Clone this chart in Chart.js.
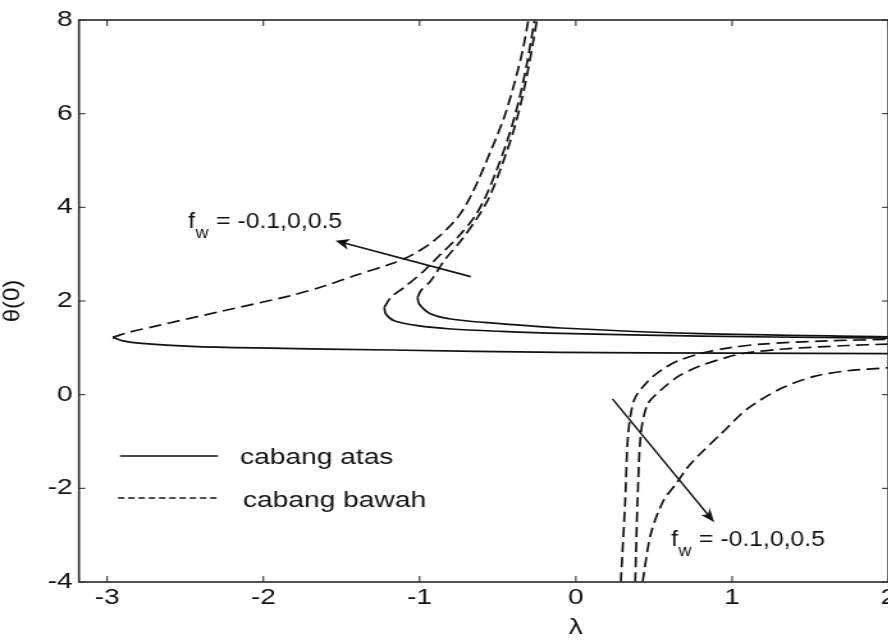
<!DOCTYPE html>
<html>
<head>
<meta charset="utf-8">
<script src="https://cdn.jsdelivr.net/npm/chart.js@4.4.1/dist/chart.umd.min.js"></script>
<style>
  html, body { margin: 0; padding: 0; background: #fff; overflow: hidden; }
  #wrap { width: 888px; height: 640px; overflow: hidden; position: relative; }
  /* the original figure is stretched sideways, so is this one */
  #stretch { position: absolute; left: 0; top: 0; transform: scaleX(1.28); transform-origin: 0 0; }
</style>
</head>
<body>
<div id="wrap"><div id="stretch"><canvas id="thetaChart" width="712" height="640"></canvas></div></div>
<script>
// axis ticks and labels
var xTicks = [-3, -2, -1, 0, 1, 2];
var yTicks = [-4, -2, 0, 2, 4, 6, 8];
var xLabel = '\u03bb';
var yLabel = '\u03b8(0)';
var legendLabels = ['cabang atas', 'cabang bawah'];
var fwValues = [-0.1, 0, 0.5];

// [lambda, theta(0)]
// left family, upper branch (solid)
var upperFwM01 = [[-1.013, 2.077], [-1.003, 1.936], [-0.928, 1.722], [-0.800, 1.616], [-0.587, 1.543], [-0.096, 1.424], [0.80, 1.302], [2.0, 1.235]];
var upperFw0 = [[-1.226, 1.863], [-1.216, 1.722], [-1.163, 1.580], [-1.013, 1.473], [-0.800, 1.402], [-0.480, 1.351], [-0.096, 1.308], [0.80, 1.249], [2.0, 1.206]];
var upperFw05 = [[-2.964, 1.223], [-2.90, 1.15], [-2.78, 1.095], [-2.46, 1.031], [-2.04, 0.997], [-1.18, 0.954], [-0.10, 0.903], [1.0, 0.885], [2.0, 0.875]];

// left family, lower branch (dashed)
var lowerFwM01 = [[-1.013, 2.077], [-0.992, 2.220], [-0.928, 2.433], [-0.843, 2.860], [-0.736, 3.287], [-0.629, 3.784], [-0.555, 4.211], [-0.478, 4.852], [-0.405, 5.565], [-0.348, 6.275], [-0.303, 6.986], [-0.272, 7.556], [-0.250, 7.983]];
var lowerFw0 = [[-1.226, 1.863], [-1.184, 2.077], [-1.099, 2.290], [-0.971, 2.647], [-0.864, 3.003], [-0.757, 3.357], [-0.651, 3.784], [-0.580, 4.211], [-0.500, 4.852], [-0.425, 5.565], [-0.365, 6.275], [-0.318, 6.986], [-0.287, 7.556], [-0.265, 7.983]];
var lowerFw05 = [[-2.964, 1.223], [-2.85, 1.34], [-2.676, 1.473], [-2.254, 1.793], [-1.827, 2.113], [-1.60, 2.33], [-1.399, 2.56], [-1.186, 2.79], [-1.05, 2.98], [-0.907, 3.29], [-0.757, 3.78], [-0.665, 4.29], [-0.544, 5.21], [-0.459, 5.92], [-0.395, 6.63], [-0.341, 7.34], [-0.305, 7.98]];

// right family, lower branch (dashed)
var rightFwM01 = [[0.288, -4.0], [0.316, -2.26], [0.335, -0.84], [0.375, -0.1], [0.459, 0.28], [0.545, 0.52], [0.652, 0.72], [0.80, 0.88], [0.98, 1.0], [1.19, 1.08], [1.61, 1.15], [2.0, 1.18]];
var rightFw0 = [[0.38, -4.0], [0.395, -2.26], [0.416, -0.84], [0.46, -0.2], [0.545, 0.10], [0.66, 0.40], [0.80, 0.62], [0.96, 0.79], [1.07, 0.88], [1.31, 0.97], [1.74, 1.05], [2.0, 1.08]];
var rightFw05 = [[0.427, -4.0], [0.48, -2.97], [0.561, -2.26], [0.64, -1.91], [0.716, -1.55], [0.80, -1.25], [0.928, -0.84], [1.099, -0.30], [1.312, 0.13], [1.525, 0.39], [1.738, 0.51], [2.0, 0.575]];

var solidBranches = [upperFwM01, upperFw0, upperFw05];
var dashedBranches = [lowerFwM01, lowerFw0, lowerFw05, rightFwM01, rightFw0, rightFw05];

var S = 1.28;
var fam = "'Liberation Sans', Arial, Helvetica, sans-serif";
var ink = '#111';
var curveDash = [10, 5];

function pts(arr) {
    return arr.map(function(p) { return { x: p[0], y: p[1] }; });
}

var datasets = [];
solidBranches.forEach(function(b) {
    datasets.push({ label: legendLabels[0], data: pts(b), borderDash: [] });
});
dashedBranches.forEach(function(b) {
    datasets.push({ label: legendLabels[1], data: pts(b), borderDash: curveDash });
});
datasets.forEach(function(d) {
    d.showLine = true;
    d.borderColor = ink;
    d.borderWidth = 1.7;
    d.pointRadius = 0;
    d.tension = 0.3;
    d.fill = false;
});

function line(ctx, x1, y1, x2, y2) {
    ctx.beginPath();
    ctx.moveTo(x1, y1);
    ctx.lineTo(x2, y2);
    ctx.stroke();
}

// arrow drawn in unstretched (screen) space so the head keeps its shape
function arrow(ctx, x1, y1, x2, y2) {
    ctx.save();
    ctx.scale(1 / S, 1);
    x1 *= S; x2 *= S;
    var ang = Math.atan2(y2 - y1, x2 - x1);
    var len = 14, half = 5.5, notch = 4;
    ctx.strokeStyle = ink;
    ctx.fillStyle = ink;
    ctx.lineWidth = 1.8;
    line(ctx, x1, y1, x2 - Math.cos(ang) * notch, y2 - Math.sin(ang) * notch);
    ctx.translate(x2, y2);
    ctx.rotate(ang);
    ctx.beginPath();
    ctx.moveTo(0, 0);
    ctx.lineTo(-len, -half);
    ctx.lineTo(-len + notch, 0);
    ctx.lineTo(-len, half);
    ctx.closePath();
    ctx.fill();
    ctx.restore();
}

function fwLabel(ctx, x, y) {
    ctx.save();
    ctx.translate(x, y);
    ctx.scale(0.88, 1);
    ctx.fillStyle = ink;
    ctx.textAlign = 'left';
    ctx.textBaseline = 'alphabetic';
    ctx.font = '22px ' + fam;
    ctx.fillText('f', 0, 0);
    var fw = ctx.measureText('f').width;
    ctx.font = '16px ' + fam;
    ctx.fillText('w', fw + 0.5, 10);
    var ww = ctx.measureText('w').width;
    ctx.font = '22px ' + fam;
    ctx.fillText(' = ' + fwValues.join(','), fw + ww + 1, 0);
    ctx.restore();
}

var matlabFrame = {
    id: 'matlabFrame',
    afterDraw: function(chart) {
        var ctx = chart.ctx, a = chart.chartArea;
        var xs = chart.scales.x, ys = chart.scales.y;
        ctx.save();

        // box and inward ticks
        ctx.strokeStyle = '#333';
        ctx.lineWidth = 1.7;
        ctx.strokeRect(a.left, a.top, a.right - a.left, a.bottom - a.top);
        ctx.lineWidth = 1.1;
        xs.ticks.forEach(function(t) {
            var px = xs.getPixelForValue(t.value);
            line(ctx, px, a.bottom, px, a.bottom - 6);
            line(ctx, px, a.top, px, a.top + 6);
        });
        ys.ticks.forEach(function(t) {
            var py = ys.getPixelForValue(t.value);
            line(ctx, a.left, py, a.left + 5, py);
            line(ctx, a.right, py, a.right - 5, py);
        });

        // legend inside the axes
        ctx.strokeStyle = ink;
        ctx.lineWidth = 1.5;
        line(ctx, 93.7, 456, 170.3, 456);
        ctx.setLineDash([5, 3]);
        line(ctx, 92.2, 498, 170.3, 498);
        ctx.setLineDash([]);
        ctx.fillStyle = ink;
        ctx.font = '22px ' + fam;
        ctx.textAlign = 'left';
        ctx.textBaseline = 'alphabetic';
        ctx.fillText(legendLabels[0], 187.5, 464);
        ctx.fillText(legendLabels[1], 189.8, 507);

        // axis titles
        ctx.textAlign = 'center';
        ctx.textBaseline = 'middle';
        ctx.font = '22px ' + fam;
        ctx.fillText(xLabel, xs.getPixelForValue(0), 628);
        ctx.save();
        ctx.translate(9.6, ys.getPixelForValue(2));
        ctx.scale(1 / S, 1);
        ctx.rotate(-Math.PI / 2);
        ctx.font = '24px ' + fam;
        ctx.fillText(yLabel, 0, 0);
        ctx.restore();

        // arrows and f_w notes
        arrow(ctx, xs.getPixelForValue(-0.673), ys.getPixelForValue(2.519),
                   xs.getPixelForValue(-1.538), ys.getPixelForValue(3.287));
        arrow(ctx, xs.getPixelForValue(0.235), ys.getPixelForValue(-0.092),
                   xs.getPixelForValue(0.886), ys.getPixelForValue(-2.725));
        fwLabel(ctx, xs.getPixelForValue(-2.481), ys.getPixelForValue(3.565));
        fwLabel(ctx, xs.getPixelForValue(0.609), ys.getPixelForValue(-3.223));

        ctx.restore();
    }
};

var tickFont = { family: fam, size: 22 };

new Chart(document.getElementById('thetaChart'), {
    type: 'scatter',
    data: { datasets: datasets },
    options: {
        responsive: false,
        animation: false,
        devicePixelRatio: 1,
        layout: { padding: { top: 20, right: 18, left: 0, bottom: 0 } },
        plugins: {
            legend: { display: false },
            tooltip: { enabled: false }
        },
        scales: {
            x: {
                type: 'linear',
                min: -3.18,
                max: 2.0,
                grid: { display: false, drawTicks: false },
                border: { display: false },
                ticks: { color: ink, font: tickFont, padding: 3, maxRotation: 0, autoSkip: false },
                afterBuildTicks: function(s) {
                    s.ticks = xTicks.map(function(v) { return { value: v }; });
                },
                afterFit: function(s) { s.height = 58; }
            },
            y: {
                type: 'linear',
                min: -4,
                max: 8,
                grid: { display: false, drawTicks: false },
                border: { display: false },
                ticks: { color: ink, font: tickFont, padding: 5 },
                afterBuildTicks: function(s) {
                    s.ticks = yTicks.map(function(v) { return { value: v }; });
                },
                afterFit: function(s) { s.width = 61.7; }
            }
        }
    },
    plugins: [matlabFrame]
});
</script>
</body>
</html>
